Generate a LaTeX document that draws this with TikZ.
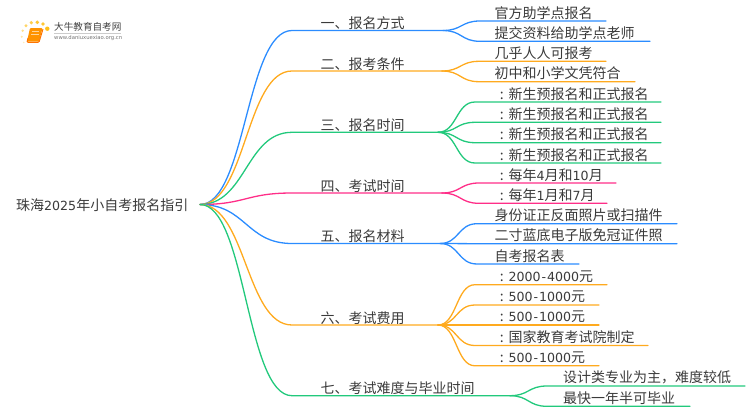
\documentclass[tikz,border=0pt]{standalone}
\usepackage{fontspec}
\setmainfont{Noto Sans CJK SC}
\newfontfamily\latinfont{DejaVu Sans}
\newcommand{\num}[1]{{\latinfont\fontsize{12.6}{14}\selectfont #1}}
\newcommand{\hy}{\kern.9pt-\kern.9pt}
\newcommand{\cmark}{\makebox[14pt][l]{\hspace{5.2pt}:}}
\definecolor{cblue}{HTML}{2B8CFF}
\definecolor{corange}{HTML}{FFAA1E}
\definecolor{cgreen}{HTML}{22C97C}
\definecolor{cpink}{HTML}{FF2E88}
\definecolor{ctext}{HTML}{3A3A3A}
\tikzset{
  lab/.style={anchor=west,inner sep=0pt,text=ctext,font=\fontsize{14}{14}\selectfont},
  conn/.style={line width=1.3pt,line cap=round},
}
% \kid[text x]{name}{fork}{y of line}{x of line end}{colour}{text}
\newcommand{\kid}[7][494.5]{%
  \node[lab] (#2) at (#1,#4-8.2) {#7};
  \coordinate (#2s) at (\forkx+37,#4);
  \coordinate (#2e) at (#5,#4);
  \draw[conn,#6] (#3) .. controls (\forkx+19,\forky) and (\forkx+18,#4) .. (#2s) -- (#2e);
}
% \branch{name}{y}{fork x}{colour}{text}
\newcommand{\branch}[5]{%
  \node[lab] (#1) at (320.5,#2-7.2) {#5};
  \coordinate (#1c) at (292,#2);
  \coordinate (#1f) at (#3,#2);
  \draw[conn,#4] (root) .. controls (246,204.5) and (246,#2) .. (#1c) -- (#1f);
  \def\forkx{#3}\def\forky{#2}%
}
\begin{document}
\begin{tikzpicture}[x=1pt,y=-1pt]
\useasboundingbox (0,0) rectangle (750,410);
\node[lab] (title) at (16,205.5) {珠海\num{2025}年小自考报名指引};
\coordinate (root) at (200,204.5);

\branch{b1}{30.5}{443}{cblue}{一、报名方式}
\kid{k11}{b1f}{21}{606}{cblue}{官方助学点报名}
\kid{k12}{b1f}{41.3}{650}{cblue}{提交资料给助学点老师}

\branch{b2}{71}{442}{corange}{二、报考条件}
\kid{k21}{b2f}{61.3}{606}{corange}{几乎人人可报考}
\kid{k22}{b2f}{81.7}{635}{corange}{初中和小学文凭符合}

\branch{b3}{132.3}{438}{cgreen}{三、报名时间}
\kid{k31}{b3f}{102}{661}{cgreen}{\cmark 新生预报名和正式报名}
\kid{k32}{b3f}{122.3}{661}{cgreen}{\cmark 新生预报名和正式报名}
\kid{k33}{b3f}{142.7}{661}{cgreen}{\cmark 新生预报名和正式报名}
\kid{k34}{b3f}{163}{661}{cgreen}{\cmark 新生预报名和正式报名}

\branch{b4}{193}{442}{cpink}{四、考试时间}
\kid{k41}{b4f}{183}{616}{cpink}{\cmark 每年\num{4}月和\num{10}月}
\kid{k42}{b4f}{203.3}{607}{cpink}{\cmark 每年\num{1}月和\num{7}月}

\branch{b5}{243.5}{440}{cblue}{五、报名材料}
\kid{k51}{b5f}{223.7}{677}{cblue}{身份证正反面照片或扫描件}
\kid{k52}{b5f}{243.7}{677}{cblue}{二寸蓝底电子版免冠证件照}
\kid{k53}{b5f}{264}{579}{cblue}{自考报名表}

\branch{b6}{325}{438}{corange}{六、考试费用}
\kid{k61}{b6f}{284.7}{607}{corange}{\cmark \num{2000\hy 4000}元}
\kid{k62}{b6f}{305}{599}{corange}{\cmark \num{500\hy 1000}元}
\kid{k63}{b6f}{325}{599}{corange}{\cmark \num{500\hy 1000}元}
\kid{k64}{b6f}{345.5}{648}{corange}{\cmark 国家教育考试院制定}
\kid{k65}{b6f}{365.8}{599}{corange}{\cmark \num{500\hy 1000}元}

\branch{b7}{395.7}{510}{cgreen}{七、考试难度与毕业时间}
\kid[563]{k71}{b7f}{386}{745}{cgreen}{设计类专业为主，难度较低}
\kid[563]{k72}{b7f}{406.3}{690}{cgreen}{最快一年半可毕业}

% logo
\fill[orange!55!yellow,opacity=.9] (47.3,28.7) circle (2.2);
\fill[orange!55!yellow,opacity=.8] (43,24) circle (1.9);
\fill[orange!55!yellow,opacity=.8] (37.3,22.3) circle (1.9);
\fill[orange!55!yellow,opacity=.7] (31.3,22.7) circle (1.8);
\fill[orange!55!yellow,opacity=.6] (26,25.7) circle (1.6);
\fill[orange!55!yellow,opacity=.45] (22.7,30.7) circle (1.3);
\fill[orange!55!yellow,opacity=.35] (21.7,36.7) circle (1.1);
\fill[orange!55!yellow,opacity=.25] (23.7,42.5) circle (.9);
\fill[orange!85!yellow,rounded corners=1pt] (30,28) -- (42.5,28) -- (39,41.5) -- (27,41.5) -- cycle;
\draw[orange!90!red,line width=1pt,rounded corners=1pt] (28,38) -- (27,42.3) -- (39,42.3) -- (43,29);
\fill[white,opacity=.6] (31.5,31) rectangle (39,32);
\fill[white,opacity=.6] (31,33.5) rectangle (38.5,34.5);
\node[lab,text=black!75,font=\fontsize{9.6}{10}\selectfont] (logoa) at (54,27) {大牛教育自考网};
\coordinate (rulea) at (54,33.3);
\coordinate (ruleb) at (121,33.3);
\draw[black!20,line width=.5pt] (rulea) -- (ruleb);
\node[lab,text=black!55,font=\latinfont\fontsize{5.3}{6}\selectfont] (logob) at (54,38.5) {www.daniuxuexiao.org.cn};
\end{tikzpicture}
\end{document}
